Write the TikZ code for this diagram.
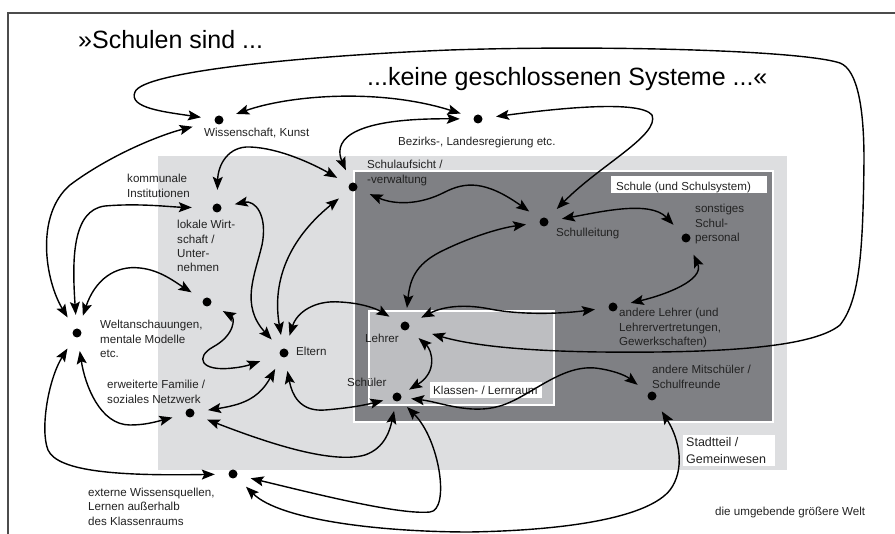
\documentclass[tikz,border=0pt]{standalone}
\usepackage{fontspec}
\setmainfont{Liberation Sans}
\usetikzlibrary{arrows.meta}
\definecolor{lightbg}{HTML}{DDDEE0}
\definecolor{schule}{HTML}{7F8084}
\definecolor{klasse}{HTML}{BDBEC1}
\definecolor{txt}{HTML}{222222}
\begin{document}
\begin{tikzpicture}[x=1pt,y=-1pt,
  dotn/.style={circle,minimum size=36pt,inner sep=0pt,path picture={\fill[black] (path picture bounding box.center) circle (4.5pt);}},
  dots/.style={dotn,minimum size=28pt},
  lbl/.style={anchor=base west,inner sep=0pt,align=left,text=txt,font=\fontsize{11.6}{14.3}\selectfont},
  lblbig/.style={lbl,font=\fontsize{12.5}{16.5}\selectfont},
  big/.style={anchor=base west,inner sep=0pt,text=black,font=\fontsize{25}{30}\selectfont},
  arr/.style={line width=1.4pt,{Stealth[length=13pt,width=10pt,inset=2.5pt]}-{Stealth[length=13pt,width=10pt,inset=2.5pt]}},
  frameline/.style={draw=black!70,line width=1.2pt},
  wedge/.style={draw=white,line width=1.5pt}
]
\useasboundingbox (0,0) rectangle (895,534);
% frame
\draw[frameline] (8,534) -- (8,13) -- (895,13);
% regions
\fill[lightbg] (158,156) rectangle (787,470);
\filldraw[fill=schule,wedge] (354,171) rectangle (773,422);
\filldraw[fill=klasse,wedge] (369,311) rectangle (554,405);
% white label boxes
\fill[white] (611,176) rectangle (767,193);
\fill[white] (430,382) rectangle (542,398);
\fill[white] (683,435) rectangle (775,466);
% titles
\node[big] (title1) at (78,49) {»Schulen sind ...};
\node[big] (title2) at (367,86) {...keine geschlossenen Systeme ...«};
% labels (anchor = baseline of the last line)
\node[lbl] (twiss) at (204,137) {Wissenschaft, Kunst};
\node[lbl] (tbez) at (398,145.5) {Bezirks-, Landesregierung etc.};
\node[lbl] (taufs) at (367,183.3) {Schulaufsicht /\\-verwaltung};
\node[lbl] (tkomm) at (127,197.3) {kommunale\\Institutionen};
\node[lbl] (tlok) at (177,271.9) {lokale Wirt-\\schaft /\\Unter-\\nehmen};
\node[lbl] (twelt) at (100,357.6) {Weltanschauungen,\\mentale Modelle\\etc.};
\node[lbl] (telt) at (296,356) {Eltern};
\node[lbl] (tleh) at (365,343) {Lehrer};
\node[lbl] (tsch) at (347,387) {Schüler};
\node[lbl] (tsl) at (556,236.5) {Schulleitung};
\node[lbl] (tsp) at (695,241.6) {sonstiges\\Schul-\\personal};
\node[lbl] (tal) at (619,345.6) {andere Lehrer (und\\Lehrervertretungen,\\Gewerkschaften)};
\node[lbl] (tms) at (652,388.3) {andere Mitschüler /\\Schulfreunde};
\node[lbl] (tfam) at (107,403.3) {erweiterte Familie /\\soziales Netzwerk};
\node[lbl] (text) at (88,525.3) {externe Wissensquellen,\\Lernen außerhalb\\des Klassenraums};
\node[lbl] (tworld) at (715,516) {die umgebende größere Welt};
\node[lbl] (tschule) at (616,190.5) {Schule (und Schulsystem)};
\node[lbl] (tklasse) at (433,395) {Klassen- / Lernraum};
\node[lblbig] (tstadt) at (686,463.5) {Stadtteil /\\Gemeinwesen};
% dots
\node[dotn] (wiss) at (219,120) {};
\node[dotn] (bez) at (478,119) {};
\node[dotn] (aufs) at (353,187) {};
\node[dotn] (komm) at (217,208) {};
\node[dotn] (unt) at (207,302) {};
\node[dotn] (welt) at (77,333) {};
\node[dotn] (elt) at (284,353) {};
\node[dotn] (leh) at (405,326) {};
\node[dots] (sch) at (397,397) {};
\node[dotn] (sl) at (544,222) {};
\node[dotn] (sp) at (686,238) {};
\node[dotn] (al) at (613,307) {};
\node[dotn] (ms) at (652,396) {};
\node[dotn] (fam) at (190,413) {};
\node[dotn] (ext) at (233,474) {};
% connectors
\draw[arr,shorten >=10pt] (wiss) .. controls (165,112) and (128,108) .. (135,92)
  .. controls (142,72) and (300,56) .. (450,50)
  .. controls (600,45) and (800,50) .. (840,63)
  .. controls (858,70) and (864,110) .. (864,160)
  .. controls (863,250) and (860,300) .. (840,325)
  .. controls (810,350) and (700,353) .. (600,352)
  .. controls (520,351) and (470,345) .. (leh);
\draw[arr] (wiss) .. controls (290,95) and (380,88) .. (bez);
\draw[arr] (aufs) .. controls (335,145) and (340,118) .. (bez);
\draw[arr] (bez) .. controls (560,108) and (640,100) .. (652,115)
  .. controls (660,135) and (600,165) .. (sl);
\draw[arr,shorten >=9pt] (welt) .. controls (45,280) and (35,215) .. (70,185)
  .. controls (110,155) and (160,135) .. (wiss);
\draw[arr,shorten >=7pt] (welt) .. controls (72,260) and (72,210) .. (105,206)
  .. controls (140,203) and (170,207) .. (komm);
\draw[arr] (welt) .. controls (95,280) and (115,265) .. (140,268)
  .. controls (160,270) and (175,282) .. (unt);
\draw[arr] (komm) .. controls (218,165) and (228,146) .. (250,147)
  .. controls (280,148) and (315,165) .. (aufs);
\draw[arr] (komm) .. controls (255,200) and (268,215) .. (262,245)
  .. controls (255,275) and (240,305) .. (elt);
\draw[arr] (aufs) .. controls (300,230) and (270,270) .. (elt);
\draw[arr] (elt) .. controls (297,312) and (315,300) .. (340,302)
  .. controls (360,303) and (375,308) .. (leh);
\draw[arr,shorten >=7pt] (unt) .. controls (235,318) and (235,335) .. (213,347)
  .. controls (195,357) and (200,372) .. (233,368)
  .. controls (245,367) and (255,363) .. (elt);
\draw[arr] (fam) .. controls (240,405) and (258,400) .. (elt);
\draw[arr] (elt) .. controls (292,395) and (300,412) .. (325,410)
  .. controls (350,408) and (365,405) .. (sch);
\draw[arr] (welt) .. controls (85,385) and (100,425) .. (130,425)
  .. controls (145,425) and (155,422) .. (fam);
\draw[arr] (welt) .. controls (48,380) and (40,430) .. (48,450)
  .. controls (58,472) and (120,476) .. (ext);
\draw[arr] (fam) .. controls (260,440) and (330,465) .. (365,455)
  .. controls (385,448) and (390,430) .. (sch);
\draw[arr] (ext) .. controls (320,495) and (400,515) .. (430,512)
  .. controls (450,510) and (440,440) .. (sch);
\draw[arr] (ext) .. controls (280,520) and (380,532) .. (470,532)
  .. controls (580,530) and (650,515) .. (670,490)
  .. controls (685,470) and (680,440) .. (ms);
\draw[arr] (sch) .. controls (440,402) and (470,415) .. (500,406)
  .. controls (530,397) and (560,365) .. (595,368)
  .. controls (612,370) and (625,375) .. (ms);
\draw[arr] (leh) .. controls (432,350) and (438,372) .. (sch);
\draw[arr] (leh) .. controls (440,308) and (460,303) .. (490,309)
  .. controls (520,315) and (560,314) .. (al);
\draw[arr] (leh) .. controls (410,280) and (415,265) .. (440,252)
  .. controls (470,237) and (500,228) .. (sl);
\draw[arr] (aufs) .. controls (395,205) and (420,205) .. (445,192)
  .. controls (465,182) and (485,180) .. (sl);
\draw[arr] (sl) .. controls (600,212) and (650,200) .. (sp);
\draw[arr] (al) .. controls (665,295) and (705,280) .. (sp);
\end{tikzpicture}
\end{document}
